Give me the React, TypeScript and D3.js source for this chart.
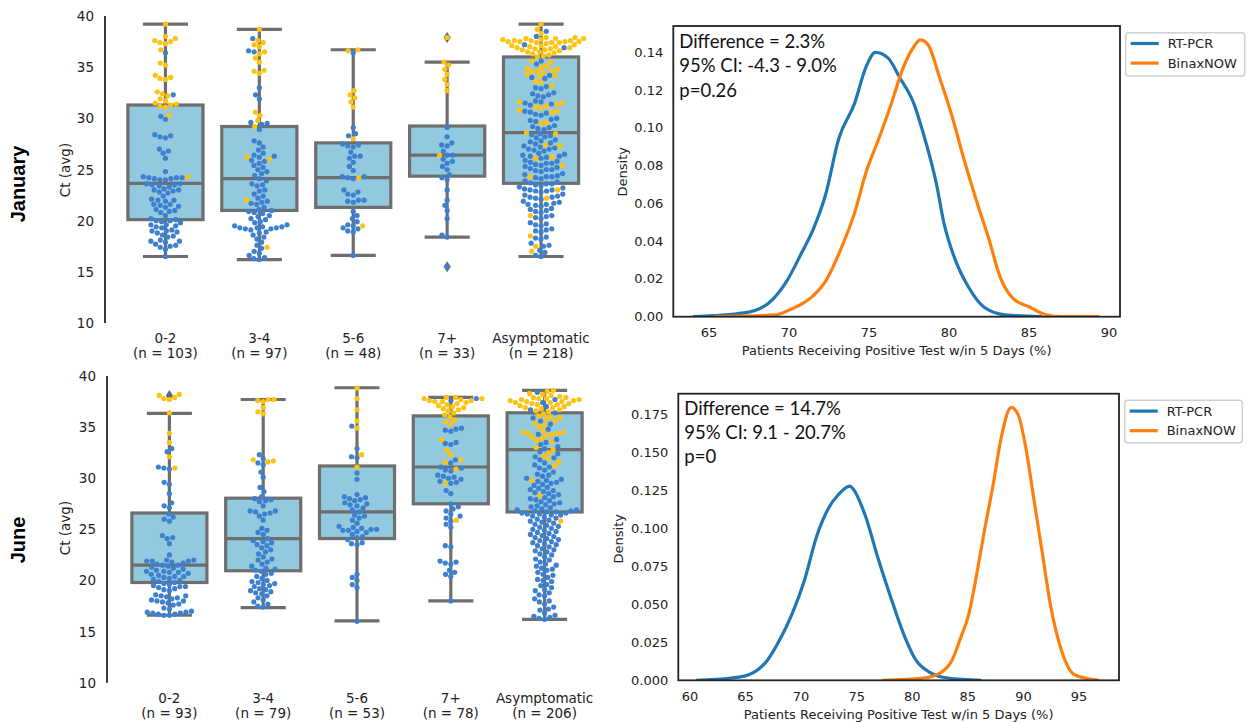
import React from 'react';
import * as d3 from 'd3';

const GROUPS = ['0-2', '3-4', '5-6', '7+', 'Asymptomatic'];
const JAN_N = [103, 97, 48, 33, 218];
const JUN_N = [93, 79, 53, 78, 206];

// box stats
const JAN_LO = [16.5, 16.2, 16.6, 18.4, 16.5];
const JAN_Q1 = [20.1, 21.0, 21.3, 24.35, 23.65];
const JAN_MED = [23.65, 24.1, 24.2, 26.4, 28.6];
const JAN_Q3 = [31.3, 29.2, 27.6, 29.25, 36.0];
const JAN_HI = [39.2, 38.7, 36.7, 35.5, 39.2];
const JAN_FLIERS = [[], [], [], [37.9, 15.5], []];

const JUN_LO = [16.6, 17.35, 16.05, 18.0, 16.2];
const JUN_Q1 = [19.8, 20.95, 24.1, 27.5, 26.7];
const JUN_MED = [21.5, 24.1, 26.7, 31.1, 32.8];
const JUN_Q3 = [26.6, 28.05, 31.2, 36.1, 36.4];
const JUN_HI = [36.35, 37.7, 38.85, 37.9, 38.6];
const JUN_FLIERS = [[38.1], [], [], [], []];

// swarm points, Ct per patient (blue / yellow)
const JAN_BLUE = [
  [36.4, 32.3, 30.2, 29.9, 28.3, 28.2, 28.4, 28.1, 27.0, 26.8, 26.6, 26.1, 24.8, 24.2, 24.1, 24.3, 24.2, 24.0, 24.1, 24.2, 24.0, 23.6, 23.5, 23.4, 23.6, 23.5, 23.3, 23.0, 22.9, 23.1, 22.8, 22.7, 23.0, 22.4, 22.0, 22.1, 21.9, 22.0, 21.6, 21.5, 21.4, 21.6, 21.3, 21.0, 21.1, 20.9, 20.8, 20.5, 20.2, 20.1, 20.0, 19.9, 20.0, 19.8, 19.6, 19.5, 19.4, 19.6, 19.3, 19.0, 19.1, 18.9, 18.8, 19.0, 18.6, 18.4, 18.5, 18.1, 18.0, 17.9, 18.0, 17.7, 17.6, 17.5, 17.4, 17.2, 16.5],
  [37.8, 36.6, 36.5, 33.0, 32.3, 31.9, 29.5, 29.4, 29.6, 28.9, 27.8, 27.6, 27.2, 26.9, 26.6, 26.3, 26.2, 26.4, 25.8, 25.6, 25.9, 25.4, 25.2, 25.0, 24.8, 24.6, 24.4, 24.1, 23.9, 23.6, 23.4, 23.5, 23.0, 22.9, 22.6, 22.4, 22.2, 21.9, 21.8, 21.7, 21.6, 21.3, 21.1, 21.0, 20.9, 20.8, 20.7, 20.5, 20.4, 20.2, 20.1, 19.9, 19.8, 19.6, 19.5, 19.3, 19.4, 19.3, 19.2, 19.3, 19.2, 19.1, 19.4, 18.9, 18.8, 18.6, 18.4, 18.2, 17.9, 17.6, 17.3, 17.0, 16.8, 16.6, 16.4, 16.2, 16.3],
  [36.4, 29.1, 28.5, 28.3, 27.5, 27.3, 27.4, 27.2, 26.7, 26.3, 26.1, 26.3, 25.7, 25.3, 24.9, 24.3, 24.2, 24.3, 24.1, 23.0, 22.8, 22.6, 22.5, 22.0, 21.9, 22.0, 21.8, 20.9, 20.5, 20.2, 19.9, 19.6, 19.3, 19.5, 19.2, 19.0, 18.9, 16.6],
  [15.5, 18.4, 18.6, 20.2, 21.0, 21.5, 22.0, 23.0, 24.0, 24.2, 24.5, 25.3, 25.6, 25.8, 26.0, 26.4, 26.4, 26.8, 27.3, 27.4, 27.6, 28.2, 29.1, 25.0],
  [38.0, 38.5, 37.2, 36.9, 35.6, 35.3, 34.2, 33.9, 34.0, 33.1, 32.9, 33.0, 32.5, 32.3, 32.2, 32.4, 32.1, 31.7, 31.5, 31.4, 31.6, 31.3, 30.6, 30.5, 30.4, 30.3, 30.7, 29.9, 29.8, 29.7, 30.0, 29.2, 29.0, 28.9, 29.1, 29.3, 28.4, 28.3, 28.2, 28.1, 28.5, 27.8, 27.7, 27.6, 27.5, 27.9, 27.2, 27.1, 27.0, 26.9, 27.0, 27.3, 26.8, 26.5, 26.4, 26.3, 26.2, 26.3, 26.1, 26.6, 25.8, 25.7, 25.6, 25.5, 25.6, 25.4, 25.9, 25.2, 25.1, 25.0, 24.9, 25.0, 24.8, 25.3, 24.5, 24.4, 24.3, 24.2, 24.3, 24.1, 24.6, 23.8, 23.7, 23.6, 23.5, 23.6, 23.4, 23.9, 23.2, 23.1, 23.0, 22.9, 23.0, 22.8, 23.3, 22.9, 22.5, 22.4, 22.3, 22.2, 22.3, 22.1, 22.6, 21.8, 21.7, 21.6, 21.5, 21.6, 21.4, 21.9, 21.2, 21.1, 21.0, 20.9, 20.8, 20.5, 20.3, 20.2, 20.4, 19.8, 19.6, 19.5, 19.7, 19.2, 19.0, 18.9, 19.1, 18.4, 18.2, 18.3, 17.8, 17.6, 17.5, 17.1, 16.9, 16.6, 16.5],
];
const JAN_YELLOW = [
  [39.2, 38.0, 37.8, 37.6, 37.4, 37.3, 37.5, 36.7, 35.4, 35.2, 34.2, 34.0, 33.8, 33.9, 32.6, 32.4, 32.2, 31.9, 31.7, 31.5, 31.3, 31.2, 31.4, 31.1, 30.3, 24.3],
  [38.7, 37.6, 37.4, 37.2, 37.0, 36.5, 36.3, 35.9, 35.5, 34.7, 34.4, 34.6, 30.6, 30.3, 29.8, 29.2, 26.0, 26.2, 22.0, 17.4],
  [36.7, 36.6, 32.7, 32.3, 32.0, 31.6, 31.1, 28.0, 24.2, 19.5],
  [37.9, 35.5, 35.2, 34.8, 34.3, 33.8, 33.3, 32.7, 26.4],
  [39.2, 38.7, 38.3, 37.8, 37.7, 37.9, 37.8, 37.6, 37.7, 37.8, 37.9, 37.5, 37.4, 37.5, 37.6, 37.4, 37.5, 37.3, 37.6, 37.5, 37.4, 37.1, 37.2, 37.0, 37.1, 36.9, 37.0, 36.8, 36.7, 36.8, 36.6, 36.9, 36.7, 36.5, 36.4, 36.5, 36.3, 36.2, 36.1, 36.0, 35.6, 35.5, 35.0, 34.9, 35.1, 34.8, 34.7, 34.6, 34.5, 34.6, 34.3, 34.2, 34.1, 33.6, 33.5, 33.2, 31.5, 31.4, 31.6, 31.1, 31.0, 31.2, 30.7, 30.6, 30.8, 29.6, 29.5, 28.5, 28.6, 27.4, 27.3, 26.2, 26.1, 25.4, 24.3, 23.0, 22.2, 20.5, 18.5, 17.5, 17.0],
];
const JUN_BLUE = [
  [32.9, 32.6, 31.1, 31.0, 30.9, 29.6, 29.4, 28.5, 27.6, 27.3, 27.1, 26.5, 26.2, 26.0, 25.8, 24.4, 24.2, 24.1, 23.6, 22.5, 22.0, 21.9, 21.9, 22.0, 21.8, 21.9, 21.7, 21.6, 21.5, 21.4, 21.5, 21.3, 21.2, 21.1, 21.0, 20.9, 20.8, 20.8, 20.7, 20.6, 20.9, 20.5, 20.4, 20.3, 20.2, 20.1, 20.0, 19.9, 19.8, 19.7, 19.6, 19.5, 19.4, 19.4, 19.3, 19.2, 19.0, 18.6, 18.5, 18.4, 18.5, 18.3, 18.1, 18.0, 17.9, 18.0, 17.8, 17.7, 17.6, 17.3, 17.0, 16.9, 16.8, 16.7, 16.8, 16.6, 16.7, 16.6, 16.9, 17.2, 18.2, 19.1, 20.4],
  [32.3, 31.9, 31.5, 31.3, 30.6, 30.1, 29.1, 28.7, 28.2, 28.0, 27.8, 27.7, 27.9, 27.3, 26.8, 26.7, 26.6, 26.5, 26.3, 26.8, 25.1, 24.9, 24.5, 24.1, 23.9, 23.8, 23.7, 23.5, 23.4, 23.2, 22.8, 22.6, 22.3, 22.0, 21.8, 21.6, 21.4, 21.2, 21.0, 21.1, 20.9, 20.6, 20.4, 20.2, 20.0, 19.9, 19.8, 19.6, 19.5, 19.7, 19.4, 19.2, 19.0, 18.9, 18.8, 18.7, 19.1, 18.5, 18.3, 18.1, 17.9, 17.7, 17.5, 17.4, 22.1, 23.0, 24.7, 25.9, 20.7],
  [35.1, 32.9, 32.1, 32.0, 30.5, 29.9, 28.4, 28.2, 28.1, 27.9, 27.8, 27.6, 27.5, 27.4, 27.3, 27.1, 26.9, 26.4, 26.3, 26.1, 25.9, 25.6, 25.3, 25.2, 25.1, 25.0, 24.9, 24.8, 24.9, 25.0, 24.7, 24.5, 24.3, 24.0, 23.7, 23.5, 23.6, 20.6, 20.3, 20.0, 19.6, 19.3, 16.0, 26.7, 28.0, 24.2],
  [37.8, 37.6, 34.9, 34.8, 34.7, 34.6, 33.4, 33.3, 33.5, 31.8, 31.5, 31.1, 31.0, 30.8, 30.7, 30.3, 30.2, 30.1, 30.0, 29.9, 29.7, 29.6, 29.5, 28.5, 27.5, 27.2, 27.0, 26.8, 26.5, 26.3, 26.1, 25.8, 25.5, 25.2, 23.4, 23.3, 21.9, 21.8, 21.7, 21.6, 21.0, 20.8, 20.6, 20.4, 18.0, 28.8],
  [38.4, 37.7, 37.4, 37.0, 36.7, 36.4, 35.9, 35.6, 35.3, 34.8, 34.3, 33.8, 33.5, 33.3, 33.1, 32.9, 32.6, 32.4, 32.1, 31.8, 31.5, 31.3, 31.0, 30.8, 30.6, 30.3, 30.2, 30.0, 29.8, 29.7, 29.5, 29.3, 29.1, 28.9, 28.7, 28.5, 28.4, 28.2, 28.0, 27.9, 27.7, 27.6, 27.4, 27.3, 27.1, 27.0, 26.9, 26.8, 26.8, 26.7, 26.6, 26.6, 26.5, 26.5, 26.4, 26.3, 26.2, 26.0, 25.8, 25.6, 25.5, 25.3, 25.1, 25.0, 24.9, 24.7, 24.6, 24.5, 24.4, 24.2, 24.1, 24.0, 23.8, 23.7, 23.6, 23.4, 23.3, 23.0, 22.8, 22.6, 22.3, 22.1, 21.8, 21.6, 21.4, 21.2, 21.0, 20.8, 20.5, 20.3, 20.1, 19.9, 19.6, 19.3, 19.0, 18.8, 18.5, 18.2, 18.0, 17.7, 17.4, 17.1, 16.8, 16.6, 16.4, 16.3, 16.2, 29.9, 29.6, 29.4, 29.0, 28.8, 28.6, 28.1, 27.8, 27.5, 27.2, 26.9, 26.7, 26.4, 26.1, 25.9, 25.7, 25.4, 25.2, 24.8, 24.3, 23.9, 23.5, 23.1, 22.9, 22.5, 22.0, 21.5, 21.1, 20.6, 20.0, 19.5, 19.1, 18.6, 17.9, 17.2, 16.5, 32.0, 31.1, 30.4],
];
const JUN_YELLOW = [
  [38.2, 38.1, 37.9, 37.8, 37.7, 36.4, 34.4, 33.5, 32.1, 31.0],
  [37.7, 37.6, 37.7, 37.5, 36.9, 36.5, 36.3, 31.8, 31.6, 31.7],
  [38.8, 37.8, 36.7, 35.6, 34.9, 32.3, 31.1],
  [37.9, 37.8, 37.9, 37.7, 37.6, 37.8, 37.5, 37.4, 37.6, 37.3, 37.2, 37.5, 37.1, 37.0, 36.9, 36.8, 36.7, 36.6, 36.4, 36.2, 36.0, 35.7, 35.5, 35.3, 33.8, 32.7, 32.3, 31.8, 31.6, 30.9, 29.5, 25.9],
  [38.6, 38.5, 38.3, 38.2, 38.1, 38.0, 37.9, 37.8, 37.9, 37.7, 37.8, 37.6, 37.7, 37.5, 37.6, 37.4, 37.5, 37.3, 37.4, 37.2, 37.3, 37.1, 37.0, 37.2, 36.9, 36.8, 36.9, 36.7, 36.6, 36.5, 36.3, 36.1, 35.9, 35.8, 35.6, 35.4, 35.2, 34.6, 34.5, 34.4, 34.3, 34.5, 34.4, 34.2, 33.9, 33.7, 33.6, 33.0, 32.8, 32.5, 32.2, 31.9, 31.6, 31.2, 29.8, 28.3, 25.8, 36.0, 35.0, 34.0],
];

// density curves [x %, density]
const JAN_RTPCR = [[64.0, 0], [67.2, 0.002], [68.7, 0.007], [69.8, 0.018], [70.8, 0.034], [71.5, 0.046], [72.3, 0.065], [73.1, 0.094], [74.1, 0.113], [74.8, 0.132], [75.4, 0.14], [76.2, 0.137], [76.9, 0.127], [77.8, 0.113], [78.4, 0.097], [79.2, 0.071], [79.7, 0.049], [80.4, 0.03], [81.2, 0.016], [82.2, 0.005], [83.5, 0.001], [85.8, 0]];
const JAN_BINAX = [[65.3, 0], [69.2, 0.001], [70.0, 0.0035], [71.5, 0.011], [72.3, 0.019], [73.3, 0.037], [74.1, 0.055], [74.8, 0.076], [75.6, 0.094], [76.4, 0.113], [77.1, 0.131], [77.8, 0.143], [78.2, 0.1466], [78.7, 0.144], [79.4, 0.127], [80.2, 0.106], [80.95, 0.083], [81.7, 0.062], [82.5, 0.041], [83.2, 0.021], [84.0, 0.0097], [85.0, 0.0053], [86.0, 0.0012], [87.1, 0], [89.4, 0]];
const JUN_RTPCR = [[60.55, 0], [63.7, 0.0015], [65.3, 0.0037], [67.0, 0.0136], [68.1, 0.027], [69.2, 0.044], [70.3, 0.066], [71.4, 0.095], [72.5, 0.114], [73.3, 0.122], [74.4, 0.128], [74.7, 0.126], [75.8, 0.108], [76.9, 0.081], [78.05, 0.055], [79.2, 0.031], [80.3, 0.0136], [81.7, 0.0048], [83.2, 0.0015], [86.2, 0]];
const JUN_BINAX = [[77.3, 0], [81.0, 0.0015], [82.5, 0.0048], [83.6, 0.0136], [84.3, 0.027], [85.1, 0.044], [85.8, 0.07], [86.5, 0.099], [87.3, 0.13], [88.0, 0.16], [88.9, 0.18], [89.5, 0.1757], [90.2, 0.154], [90.95, 0.119], [91.7, 0.084], [92.4, 0.051], [93.5, 0.018], [94.6, 0.0037], [96.8, 0]];

const JAN_NOTE = ['Difference = 2.3%', '95% CI: -4.3 - 9.0%', 'p=0.26'];
const JUN_NOTE = ['Difference = 14.7%', '95% CI: 9.1 - 20.7%', 'p=0'];
const SERIES = ['RT-PCR', 'BinaxNOW'];

const BOX_FILL = '#93c9de';
const LINE_GRAY = '#6e6e6e';
const BLUE_DOT = '#3d80cf';
const YELLOW_DOT = '#fec210';
const LINE_COLORS = ['#1f77b4', '#ff7f0e'];
const TICK_FONT = 'DejaVu Sans, sans-serif';

type Pt = { v: number; c: string; py: number; px: number };

// greedy beeswarm like seaborn's swarmplot
function swarm(blue: number[], yellow: number[], y: (v: number) => number, d: number) {
  const pts: Pt[] = [
    ...blue.map(v => ({ v, c: BLUE_DOT, py: y(v), px: 0 })),
    ...yellow.map(v => ({ v, c: YELLOW_DOT, py: y(v), px: 0 })),
  ].sort((a, b) => a.v - b.v);
  const placed: Pt[] = [];
  for (const p of pts) {
    const near = placed.filter(q => Math.abs(q.py - p.py) < d);
    const cands = [0];
    near.forEach(q => {
      const dx = Math.sqrt(d * d - (q.py - p.py) ** 2);
      cands.push(q.px - dx, q.px + dx);
    });
    cands.sort((a, b) => Math.abs(a) - Math.abs(b));
    for (const c of cands) {
      if (near.every(q => (q.px - c) ** 2 + (q.py - p.py) ** 2 >= d * d - 1e-6)) {
        p.px = c;
        break;
      }
    }
    placed.push(p);
  }
  return placed;
}

const BoxSwarm = ({ cfg, stats, blue, yellow, ns }: any) => {
  const y = d3.scaleLinear().domain([10, 40]).range(cfg.yRange);
  const x = d3.scaleBand().domain(GROUPS).range(cfg.bandRange);
  const bw = x.bandwidth() * 0.8;
  const capW = bw * 0.6;
  const [lo, q1, med, q3, hi, fliers] = stats;
  const diamond = (cx: number, cy: number) => `M${cx},${cy - 5.5}L${cx + 3.6},${cy}L${cx},${cy + 5.5}L${cx - 3.6},${cy}Z`;

  return (
    <g>
      <text transform={`translate(${cfg.rowX},${cfg.rowY}) rotate(-90)`} textAnchor="middle" dominantBaseline="central"
        style={{ font: 'bold 20px Liberation Sans, Arial, sans-serif' }}>{cfg.row}</text>
      <text transform={`translate(${cfg.ctX},${cfg.ctY}) rotate(-90)`} textAnchor="middle" dominantBaseline="central"
        style={{ font: `13.5px ${TICK_FONT}` }} fill="#222">Ct (avg)</text>
      <line x1={cfg.axisX} x2={cfg.axisX} y1={y(40)} y2={y(10)} stroke="#3a3a3a" strokeWidth={2} />
      {d3.range(10, 41, 5).map(t => (
        <text key={t} x={cfg.axisX - 11} y={y(t)} textAnchor="end" dominantBaseline="central"
          style={{ font: `13.5px ${TICK_FONT}` }} fill="#222">{t}</text>
      ))}
      {GROUPS.map((g, i) => {
        const cx = x(g)! + x.bandwidth() / 2;
        return (
          <g key={g}>
            <text x={cx} y={cfg.catY} textAnchor="middle" dominantBaseline="central" style={{ font: `13.5px ${TICK_FONT}` }} fill="#222">{g}</text>
            <text x={cx} y={cfg.catY + 15} textAnchor="middle" dominantBaseline="central" style={{ font: `13.5px ${TICK_FONT}` }} fill="#222">{`(n = ${ns[i]})`}</text>
            <line x1={cx} x2={cx} y1={y(q3[i])} y2={y(hi[i])} stroke={LINE_GRAY} strokeWidth={3.2} />
            <line x1={cx} x2={cx} y1={y(q1[i])} y2={y(lo[i])} stroke={LINE_GRAY} strokeWidth={3.2} />
            <line x1={cx - capW / 2} x2={cx + capW / 2} y1={y(hi[i])} y2={y(hi[i])} stroke={LINE_GRAY} strokeWidth={3.2} />
            <line x1={cx - capW / 2} x2={cx + capW / 2} y1={y(lo[i])} y2={y(lo[i])} stroke={LINE_GRAY} strokeWidth={3.2} />
            <rect x={cx - bw / 2} y={y(q3[i])} width={bw} height={y(q1[i]) - y(q3[i])} fill={BOX_FILL} stroke={LINE_GRAY} strokeWidth={3.2} />
            <line x1={cx - bw / 2} x2={cx + bw / 2} y1={y(med[i])} y2={y(med[i])} stroke={LINE_GRAY} strokeWidth={3.2} />
            {fliers[i].map((f: number) => <path key={f} d={diamond(cx, y(f))} fill="#5f6b78" />)}
            {swarm(blue[i], yellow[i], y, 5.6).map((p, k) => (
              <circle key={k} cx={cx + p.px} cy={p.py} r={2.6} fill={p.c} />
            ))}
          </g>
        );
      })}
    </g>
  );
};

const DensityPanel = ({ cfg, rt, bx, note }: any) => {
  const x = d3.scaleLinear().domain(cfg.xDomain).range(cfg.xRange);
  const y = d3.scaleLinear().domain(cfg.yDomain).range(cfg.yRange);
  const line = d3.line<number[]>().x(d => x(d[0])).y(d => y(d[1])).curve(d3.curveMonotoneX);
  const fmt = d3.format(cfg.fmt);
  const [x0, x1] = cfg.xRange;
  const [yb, yt] = cfg.yRange;
  const lg = cfg.legend;
  return (
    <g>
      <defs>
        <clipPath id={cfg.id}><rect x={x0} y={yt} width={x1 - x0} height={yb - yt} /></clipPath>
      </defs>
      <g clipPath={`url(#${cfg.id})`}>
        <path d={line(rt)!} fill="none" stroke={LINE_COLORS[0]} strokeWidth={3.2} strokeLinejoin="round" />
        <path d={line(bx)!} fill="none" stroke={LINE_COLORS[1]} strokeWidth={3.2} strokeLinejoin="round" />
      </g>
      <rect x={x0} y={yt} width={x1 - x0} height={yb - yt} fill="none" stroke="#222" strokeWidth={1.8} />
      {cfg.xTicks.map((t: number) => (
        <text key={t} x={x(t)} y={yb + 16} textAnchor="middle" dominantBaseline="central" style={{ font: `13px ${TICK_FONT}` }} fill="#222">{t}</text>
      ))}
      {cfg.yTicks.map((t: number) => (
        <text key={t} x={x0 - 10} y={y(t)} textAnchor="end" dominantBaseline="central" style={{ font: `13px ${TICK_FONT}` }} fill="#222">{fmt(t)}</text>
      ))}
      <text x={(x0 + x1) / 2} y={yb + 34} textAnchor="middle" dominantBaseline="central" style={{ font: `13px ${TICK_FONT}` }} fill="#222">
        Patients Receiving Positive Test w/in 5 Days (%)
      </text>
      <text transform={`translate(${cfg.densX},${cfg.densY}) rotate(-90)`} textAnchor="middle" dominantBaseline="central"
        style={{ font: `13px ${TICK_FONT}` }} fill="#222">Density</text>
      {note.map((s: string, i: number) => (
        <text key={i} x={x0 + 6} y={cfg.noteY + i * 24.3} style={{ font: '18.5px Lato, sans-serif' }} fill="#111">{s}</text>
      ))}
      <rect x={lg[0]} y={lg[1]} width={lg[2]} height={lg[3]} rx={3} fill="#fff" stroke="#d0d0d0" strokeWidth={1.5} />
      {SERIES.map((s, i) => (
        <g key={s}>
          <line x1={lg[0] + 5} x2={lg[0] + 33} y1={lg[1] + 10.8 + i * 19.6} y2={lg[1] + 10.8 + i * 19.6} stroke={LINE_COLORS[i]} strokeWidth={3.2} />
          <text x={lg[0] + 42} y={lg[1] + 10.8 + i * 19.6} dominantBaseline="central" style={{ font: `13px ${TICK_FONT}` }} fill="#222">{s}</text>
        </g>
      ))}
    </g>
  );
};

const JAN_CFG = { yRange: [323, 16], bandRange: [118.5, 588], axisX: 105, catY: 338, row: 'January', rowX: 18, rowY: 184, ctX: 65, ctY: 170 };
const JUN_CFG = { yRange: [682.7, 376], bandRange: [122.5, 591.5], axisX: 107, catY: 698, row: 'June', rowX: 18, rowY: 540, ctX: 65, ctY: 528 };
const JAN_D_CFG = {
  id: 'clipJan', xDomain: [62.77, 90.69], xRange: [673.3, 1120], yDomain: [0, 0.154], yRange: [316.7, 26],
  xTicks: d3.range(65, 91, 5), yTicks: d3.range(0, 0.1401, 0.02), fmt: '.2f', densX: 622.7, densY: 171.7, noteY: 48,
  legend: [1125.7, 32.7, 119, 43.3],
};
const JUN_D_CFG = {
  id: 'clipJun', xDomain: [58.95, 98.6], xRange: [678.3, 1119], yDomain: [0, 0.189], yRange: [680.3, 393.7],
  xTicks: d3.range(60, 96, 5), yTicks: d3.range(0, 0.1751, 0.025), fmt: '.3f', densX: 618.3, densY: 538.7, noteY: 414.7,
  legend: [1124.7, 400.3, 117.6, 42.4],
};

export default function App() {
  return (
    <svg width={1249} height={722} style={{ position: 'absolute', left: 0, top: 0, background: '#fff' }}>
      <BoxSwarm cfg={JAN_CFG} stats={[JAN_LO, JAN_Q1, JAN_MED, JAN_Q3, JAN_HI, JAN_FLIERS]} blue={JAN_BLUE} yellow={JAN_YELLOW} ns={JAN_N} />
      <BoxSwarm cfg={JUN_CFG} stats={[JUN_LO, JUN_Q1, JUN_MED, JUN_Q3, JUN_HI, JUN_FLIERS]} blue={JUN_BLUE} yellow={JUN_YELLOW} ns={JUN_N} />
      <DensityPanel cfg={JAN_D_CFG} rt={JAN_RTPCR} bx={JAN_BINAX} note={JAN_NOTE} />
      <DensityPanel cfg={JUN_D_CFG} rt={JUN_RTPCR} bx={JUN_BINAX} note={JUN_NOTE} />
    </svg>
  );
}
